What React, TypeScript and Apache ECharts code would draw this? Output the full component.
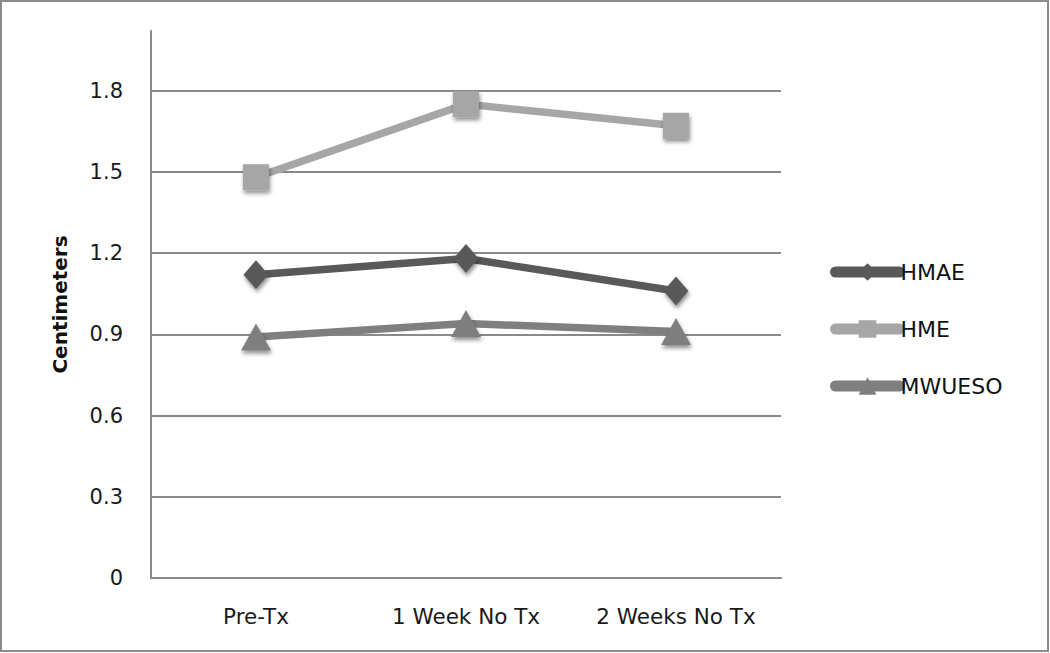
import React, { useEffect, useRef } from "react";
import * as echarts from "echarts";

const categories = ["Pre-Tx", "1 Week No Tx", "2 Weeks No Tx"];
const hmae = [1.12, 1.18, 1.06];
const hme = [1.48, 1.75, 1.67];
const mwueso = [0.89, 0.94, 0.91];
const yTicks = { min: 0, max: 2.02, interval: 0.3 };

const FONT = "'DejaVu Sans', 'Open Sans', sans-serif";

export default function App() {
  const ref = useRef<HTMLDivElement>(null);
  useEffect(() => {
    if (!ref.current) return;
    const chart = echarts.init(ref.current, null, { renderer: "svg" });
    const shadow = {
      shadowBlur: 4,
      shadowColor: "rgba(0,0,0,0.45)",
      shadowOffsetX: 1,
      shadowOffsetY: 3,
    };
    const mkSeries = (name: string, data: number[], color: string, symbol: string, size: any) => ({
      name,
      type: "line",
      data,
      symbol,
      symbolSize: size,
      lineStyle: { color, width: 7.5 },
      itemStyle: { color, ...shadow },
      emphasis: { disabled: true },
    });
    chart.setOption({
      animation: false,
      backgroundColor: "#ffffff",
      textStyle: { fontFamily: FONT },
      grid: { left: 151, right: 269, top: 31, bottom: 75, containLabel: false },
      graphic: [
        {
          type: "rect",
          shape: { x: 1, y: 1, width: 1047, height: 650 },
          style: { fill: "none", stroke: "#8c8c8c", lineWidth: 2 },
          silent: true,
        },
      ],
      xAxis: {
        type: "category",
        data: categories,
        boundaryGap: true,
        axisLine: { lineStyle: { color: "#8a8a8a", width: 2 } },
        axisTick: { show: false },
        axisLabel: {
          color: "#1a1a1a",
          fontSize: 21.5,
          margin: 27,
          interval: 0,
          hideOverlap: false,
          fontFamily: FONT,
        },
      },
      yAxis: {
        type: "value",
        min: yTicks.min,
        max: yTicks.max,
        interval: yTicks.interval,
        name: "Centimeters",
        nameLocation: "middle",
        nameGap: 81,
        nameTextStyle: { color: "#111", fontSize: 20, fontWeight: "bold", fontFamily: FONT },
        axisLine: { show: true, lineStyle: { color: "#8a8a8a", width: 2 } },
        axisTick: { show: false },
        axisLabel: { color: "#1a1a1a", fontSize: 21, margin: 28, showMaxLabel: false, fontFamily: FONT },
        splitLine: {
          show: true,
          lineStyle: {
            width: 2,
            color: ["#8a8a8a", "#8a8a8a", "#8a8a8a", "#8a8a8a", "#8a8a8a", "#8a8a8a", "#8a8a8a", "transparent"],
          },
        },
      },
      legend: {
        orient: "vertical",
        left: 825,
        top: 256,
        itemWidth: 64,
        itemHeight: 22,
        itemGap: 35,
        lineStyle: { width: 11, cap: "round" },
        textStyle: { color: "#111", fontSize: 22, padding: [0, 0, 0, -4], fontFamily: FONT },
        data: ["HMAE", "HME", "MWUESO"],
      },
      series: [
        mkSeries("HMAE", hmae, "#595959", "diamond", [25, 29]),
        mkSeries("HME", hme, "#a6a6a6", "rect", [26, 26]),
        mkSeries("MWUESO", mwueso, "#7f7f7f", "triangle", [30, 27]),
      ],
    });
    return () => chart.dispose();
  }, []);
  return (
    <div
      ref={ref}
      style={{ position: "fixed", left: 0, top: 0, width: 1050, height: 653 }}
    />
  );
}
